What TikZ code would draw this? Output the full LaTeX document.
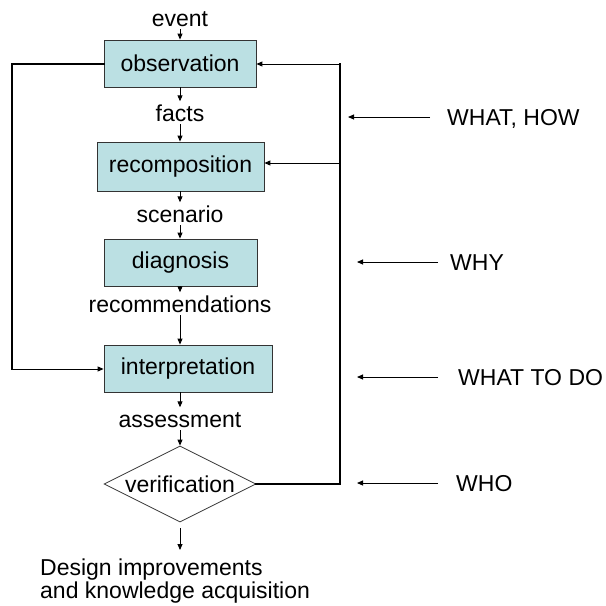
\documentclass[tikz,border=0pt]{standalone}
\usepackage{fontspec}
\setmainfont{Liberation Sans}
\usetikzlibrary{arrows.meta,shapes.geometric}
\definecolor{boxfill}{RGB}{187,224,227}
\begin{document}
\begin{tikzpicture}[x=1pt,y=-1pt,
  font=\fontsize{23}{23}\selectfont,
  stage/.style={draw=black!80, line width=0.8pt, fill=boxfill, inner sep=0pt, minimum height=47pt},
  lbl/.style={inner sep=3pt, text height=16.5pt, text depth=0pt, anchor=base},
  side/.style={anchor=west, inner sep=0pt, text height=16.4pt, text depth=0pt},
  arr/.style={line width=0.9pt, -{Triangle[length=6pt,width=5pt]}},
  feed/.style={line width=2pt, line cap=rect},
]
\useasboundingbox (0,0) rectangle (606,606);

% main chain of stages
\node[stage, minimum width=152pt] (obs) at (180,63.5) {observation};
\node[stage, minimum width=167pt, minimum height=49pt] (rec) at (180.5,166.5) {recomposition};
\node[stage, minimum width=153pt] (dia) at (180.5,262.5) {diagnosis};
\node[stage, minimum width=168pt] (int) at (188,368.5) {interpretation};
\node[draw=black!80, line width=0.8pt, shape=diamond, inner sep=0pt,
      minimum width=152pt, minimum height=76pt] (ver) at (180,484) {};
\node[inner sep=0pt] (verlbl) at (ver.center) {verification};

% flow labels between the stages
\node[lbl] (event) at (180,26) {event};
\node[lbl] (facts) at (180,121) {facts};
\node[lbl] (scen) at (180,222) {scenario};
\node[lbl] (recs) at (180,312) {recommendations};
\node[lbl] (asmt) at (180,427) {assessment};
\node[anchor=north west, align=left, inner sep=0pt] (out) at (40,559)
  {Design improvements\\and knowledge acquisition};
\coordinate (outtop) at ([yshift=9pt]out.north);
\coordinate (verbot) at ([yshift=-6pt]ver.south);

\draw[arr] (event.south) -- (event.south |- obs.north);
\draw[arr] (facts.north |- obs.south) -- (facts.north);
\draw[arr] (facts.south) -- (facts.south |- rec.north);
\draw[arr] (scen.north |- rec.south) -- (scen.north);
\draw[arr] (scen.south) -- (scen.south |- dia.north);
\draw[arr] (recs.north |- dia.south) -- (recs.north);
\draw[arr] (recs.south) -- (recs.south |- int.north);
\draw[arr] (asmt.north |- int.south) -- (asmt.north);
\draw[arr] (asmt.south) -- (ver.north);
\draw[arr] (verbot) -- (verbot |- outtop);

% feedback from verification to observation and recomposition
\coordinate (rtop) at (340,64);
\coordinate (rmid) at (340,163);
\draw[feed] (ver.east) -- (ver.east -| rtop) -- (rtop);
\draw[arr] (rtop) -- (obs.east |- rtop);
\draw[arr] (rmid) -- (rec.east |- rmid);

% bypass from observation to interpretation
\coordinate (ltop) at (12,64);
\coordinate (lbot) at (12,369);
\draw[feed] (obs.west |- ltop) -- (ltop) -- (lbot);
\draw[arr] (lbot) -- (int.west |- lbot);

% questions answered at each level
\node[side] (q1) at (447,117) {WHAT, HOW};
\node[side] (q2) at (450,262) {WHY};
\node[side] (q3) at (458,377) {WHAT TO DO};
\node[side] (q4) at (456,483) {WHO};
\coordinate (t1) at (348,117);
\coordinate (t2) at (357,262);
\coordinate (t3) at (357,377);
\coordinate (t4) at (357,483);
\draw[arr] ([xshift=-17pt]q1.west) -- (t1);
\draw[arr] ([xshift=-12pt]q2.west) -- (t2);
\draw[arr] ([xshift=-20pt]q3.west) -- (t3);
\draw[arr] ([xshift=-18pt]q4.west) -- (t4);
\end{tikzpicture}
\end{document}
